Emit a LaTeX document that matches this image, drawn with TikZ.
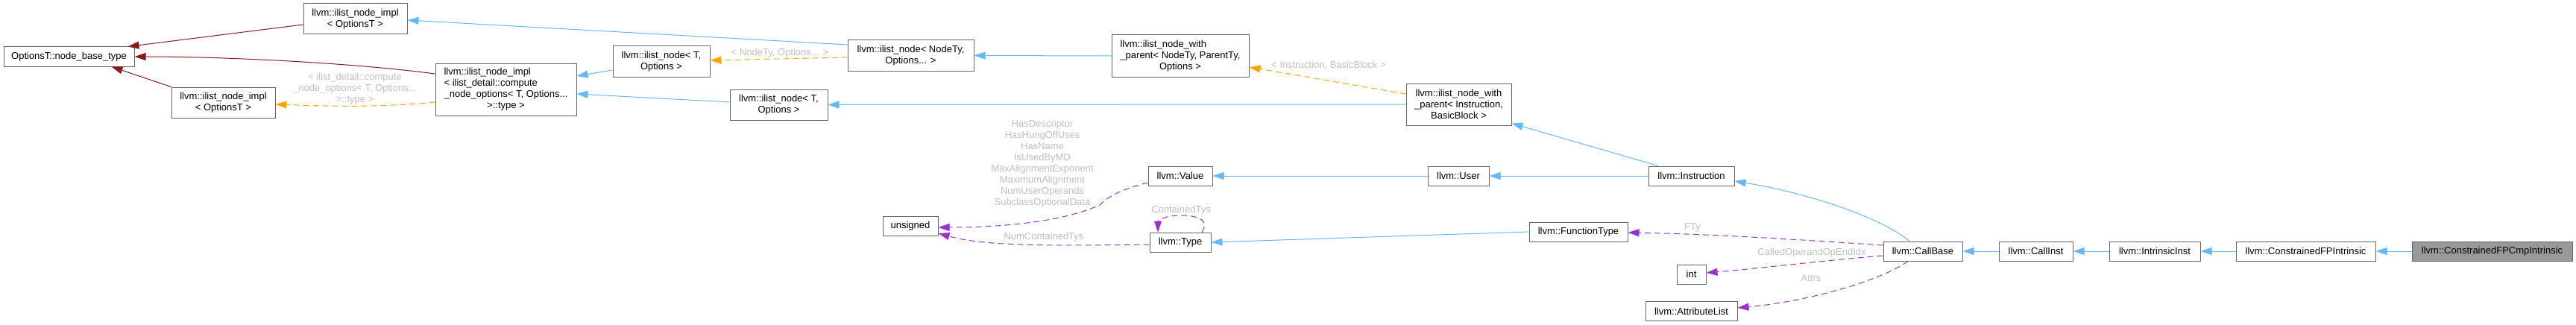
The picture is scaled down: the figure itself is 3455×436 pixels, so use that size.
\documentclass[tikz,border=0pt]{standalone}
\usepackage{fontspec}
\setmainfont{Liberation Sans}
\usetikzlibrary{arrows.meta,calc}
\definecolor{edgeblue}{HTML}{63B8FF}
\definecolor{edgered}{HTML}{8B1A1A}
\definecolor{edgeorange}{HTML}{FFA500}
\definecolor{edgepurple}{HTML}{9A32CD}
\definecolor{lblgray}{HTML}{BEBEBE}
\definecolor{boxgray}{HTML}{666666}
\definecolor{targetfill}{HTML}{999999}
\newcommand{\dfont}{\fontsize{13}{15}\selectfont}
\tikzset{
 cls/.style={draw=boxgray, fill=white, line width=1pt, inner sep=0pt, font=\dfont, align=center},
 target/.style={cls, fill=targetfill},
 inh/.style={draw=edgeblue, line width=1pt, -{Triangle[length=15pt,width=10pt]}},
 inhred/.style={draw=edgered, line width=1pt, -{Triangle[length=15pt,width=10pt]}},
 tmpl/.style={draw=edgeorange, line width=1pt, dash pattern=on 8pt off 5pt, -{Triangle[length=15pt,width=10pt]}},
 usage/.style={draw=edgepurple, line width=1pt, dash pattern=on 8pt off 5pt, -{Triangle[length=15pt,width=10pt]}},
 elabel/.style={font=\dfont, text=lblgray, align=center, inner sep=0pt},
}
\begin{document}
\begin{tikzpicture}[x=1pt,y=-1pt]
\useasboundingbox (0,0) rectangle (3455,436);
% nodes
\node[cls, minimum width=175, minimum height=26] (ob) at (92.5,76) {OptionsT::node\_base\_type};
\node[cls, minimum width=139, minimum height=41] (implA) at (476.5,25.5) {llvm::ilist\_node\_impl\\< OptionsT >};
\node[cls, minimum width=139, minimum height=41] (implB) at (299.5,137.5) {llvm::ilist\_node\_impl\\< OptionsT >};
\node[cls, minimum width=189, minimum height=70] (implC) at (678.5,120) {\begin{tabular}{@{}l@{}}llvm::ilist\_node\_impl\\< ilist\_detail::compute\\\_node\_options< T, Options...\\\multicolumn{1}{@{}c@{}}{>::type >}\end{tabular}};
\node[cls, minimum width=130, minimum height=41] (nodeTA) at (887,82.5) {llvm::ilist\_node< T,\\Options >};
\node[cls, minimum width=131, minimum height=41] (nodeTB) at (1044.5,140.5) {llvm::ilist\_node< T,\\Options >};
\node[cls, minimum width=169, minimum height=41] (nodeNT) at (1221.5,74.5) {llvm::ilist\_node< NodeTy,\\Options... >};
\node[cls, minimum width=184, minimum height=56] (wpN) at (1583,75) {\begin{tabular}{@{}l@{}}llvm::ilist\_node\_with\\\_parent< NodeTy, ParentTy,\\\multicolumn{1}{@{}c@{}}{Options >}\end{tabular}};
\node[cls, minimum width=141, minimum height=56] (wpI) at (1956.5,140) {llvm::ilist\_node\_with\\\_parent< Instruction,\\BasicBlock >};
\node[cls, minimum width=74, minimum height=26] (uns) at (1221,303) {unsigned};
\node[cls, minimum width=86, minimum height=26] (value) at (1583,236) {llvm::Value};
\node[cls, minimum width=82, minimum height=26] (type) at (1583,325) {llvm::Type};
\node[cls, minimum width=82, minimum height=26] (user) at (1956,236) {llvm::User};
\node[cls, minimum width=115, minimum height=26] (instr) at (2268.5,236) {llvm::Instruction};
\node[cls, minimum width=132, minimum height=26] (ftype) at (2117,311) {llvm::FunctionType};
\node[cls, minimum width=39, minimum height=26] (int) at (2268.5,368) {int};
\node[cls, minimum width=123, minimum height=26] (attr) at (2268.5,417.5) {llvm::AttributeList};
\node[cls, minimum width=106, minimum height=26] (cbase) at (2579,337) {llvm::CallBase};
\node[cls, minimum width=99, minimum height=26] (cinst) at (2730.5,337) {llvm::CallInst};
\node[cls, minimum width=122, minimum height=26] (iinst) at (2890,337) {llvm::IntrinsicInst};
\node[cls, minimum width=187, minimum height=26] (cfpi) at (3092.5,337) {llvm::ConstrainedFPIntrinsic};
\node[target, minimum width=215, minimum height=26] (cfpc) at (3342.5,337) {llvm::ConstrainedFPCmpIntrinsic};
% red inheritance
\draw[inhred] ($(implA.west)+(0,7.5)$) -- ($(ob.north east)+(-9,0)$);
\draw[inhred] ($(implC.west)+(0,-21)$) .. controls (470,84) and (300,76) .. (ob.east);
\draw[inhred] (implB.north west) -- ($(ob.south)+(57,0)$);
% blue inheritance
\draw[inh] ($(nodeNT.west)+(0,-14.5)$) -- ($(implA.east)+(0,1.5)$);
\draw[inh] ($(nodeTA.west)+(0,11.5)$) -- ($(implC.east)+(0,-18)$);
\draw[inh] ($(nodeTB.west)+(0,-3.5)$) -- ($(implC.east)+(0,6)$);
\draw[inh] (wpN.west) -- (nodeNT.east);
\draw[inh] (wpI.west) -- (nodeTB.east);
\draw[inh] ($(instr.north)+(-44.5,0)$) -- ($(wpI.south east)+(0,-3)$);
\draw[inh] (user.west) -- (value.east);
\draw[inh] (instr.west) -- (user.east);
\draw[inh] ($(cbase.north)+(-18,0)$) .. controls (2520,290) and (2420,258) .. ($(instr.east)+(0,7)$);
\draw[inh] (ftype.west) -- (type.east);
\draw[inh] (cinst.west) -- (cbase.east);
\draw[inh] (iinst.west) -- (cinst.east);
\draw[inh] (cfpi.west) -- (iinst.east);
\draw[inh] (cfpc.west) -- (cfpi.east);
% template instances
\draw[tmpl] ($(implC.west)+(0,17)$) .. controls (500,145) and (430,142) .. ($(implB.east)+(0,2.5)$);
\node[elabel] (lblA) at (476,119) {< ilist\_detail::compute\\\_node\_options< T, Options...\\>::type >};
\draw[tmpl] ($(nodeNT.west)+(0,2.5)$) -- ($(nodeTA.east)+(0,-1.5)$);
\node[elabel] (lblB) at (1046,71) {< NodeTy, Options... >};
\draw[tmpl] ($(wpI.west)+(0,-14)$) -- ($(wpN.east)+(0,15)$);
\node[elabel] (lblC) at (1782,88) {< Instruction, BasicBlock >};
% usage
\draw[usage] ($(value.west)+(0,9)$) .. controls (1500,255) and (1485,265) .. (1475,275) .. controls (1420,300) and (1330,305) .. ($(uns.east)+(0,2)$);
\node[elabel] (lblD) at (1398,219.5) {HasDescriptor\\HasHungOffUses\\HasName\\IsUsedByMD\\MaxAlignmentExponent\\MaximumAlignment\\NumUserOperands\\SubclassOptionalData};
\draw[usage] ($(type.west)+(0,3)$) .. controls (1400,330) and (1320,330) .. ($(uns.east)+(0,10)$);
\node[elabel] (lblE) at (1400,318) {NumContainedTys};
\draw[usage] ($(type.north)+(29,0)$) .. controls (1622,297) and (1610,289) .. (1584,289) .. controls (1562,289) and (1553,296) .. ($(type.north)+(-30,0)$);
\node[elabel] (lblF) at (1584,282) {ContainedTys};
\draw[usage] ($(cbase.west)+(0,-8)$) .. controls (2420,322) and (2300,314) .. ($(ftype.east)+(0,1)$);
\node[elabel] (lblG) at (2270,305) {FTy};
\draw[usage] ($(cbase.west)+(0,6)$) .. controls (2440,350) and (2360,360) .. ($(int.east)+(0,-2)$);
\node[elabel] (lblH) at (2430,339) {CalledOperandOpEndIdx};
\draw[usage] ($(cbase.south)+(-20,0)$) .. controls (2520,378) and (2420,405) .. ($(attr.east)+(0,-4.5)$);
\node[elabel] (lblI) at (2429,373) {Attrs};
\end{tikzpicture}
\end{document}
